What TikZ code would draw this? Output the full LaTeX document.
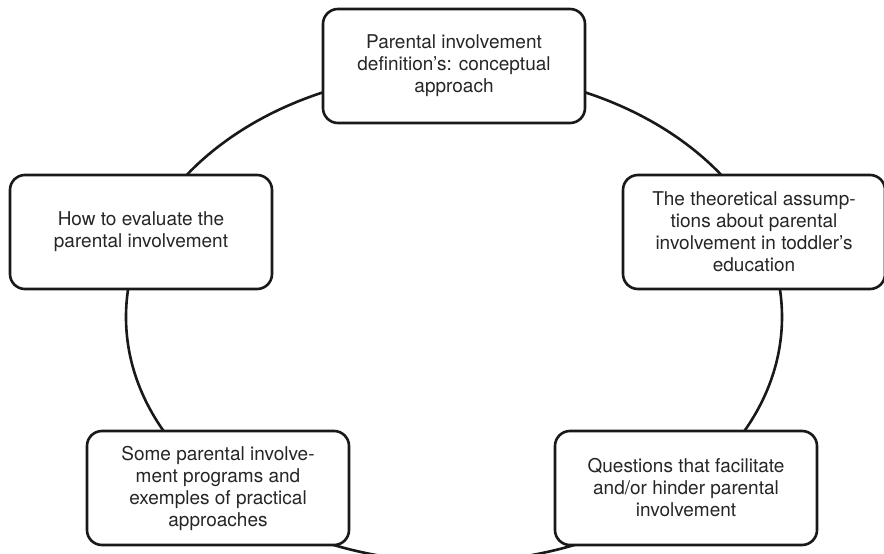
\documentclass[tikz,border=0pt]{standalone}
\usepackage{fontspec}
\setmainfont{TeX Gyre Heros}

\begin{document}
\begin{tikzpicture}[x=1pt, y=-1pt,
    topic/.style={draw=black!90, line width=2.6pt, rounded corners=15pt, fill=white,
      minimum width=262pt, minimum height=114pt, align=center, text=black!85,
      font=\fontsize{19}{22}\selectfont}]
  \useasboundingbox (0,0) rectangle (884,554);
  \coordinate (T) at (454,66);
  \coordinate (R) at (754,232);
  \coordinate (L) at (141,232);
  \coordinate (BL) at (218,488);
  \coordinate (BR) at (686,488);
  \coordinate (O) at (454,317);

  % the cycle behind the boxes
  \draw[black!90, line width=2.6pt] (O) ellipse [x radius=328pt, y radius=245pt];

  % the five topics
  \node[topic] (def) at (T) {Parental involvement\\definition’s: conceptual\\approach};
  \node[topic] (theory) at (R) {The theoretical assump-\\tions about parental\\involvement in toddler’s\\education};
  \node[topic] (questions) at (BR) {Questions that facilitate\\and/or hinder parental\\involvement};
  \node[topic] (programs) at (BL) {Some parental involve-\\ment programs and\\exemples of practical\\approaches};
  \node[topic] (evaluate) at (L) {How to evaluate the\\parental involvement};
\end{tikzpicture}
\end{document}
